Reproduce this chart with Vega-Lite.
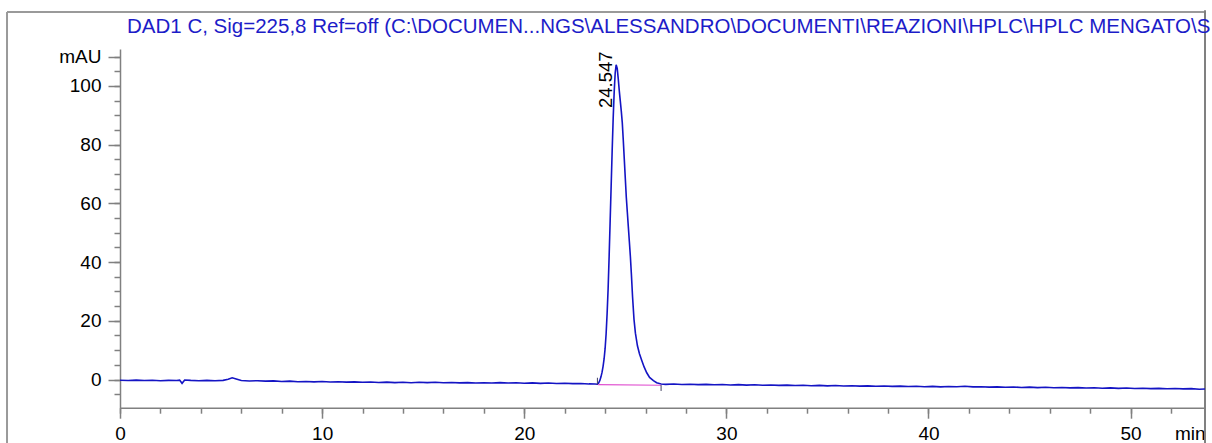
{
  "$schema": "https://vega.github.io/schema/vega-lite/v6.json",
  "width": 1085,
  "height": 358.7,
  "autosize": {"type": "none"},
  "padding": {"left": 120, "top": 49, "right": 7, "bottom": 35.3},
  "background": "white",
  "title": {
    "text": "DAD1 C, Sig=225,8 Ref=off (C:\\DOCUMEN...NGS\\ALESSANDRO\\DOCUMENTI\\REAZIONI\\HPLC\\HPLC MENGATO\\S",
    "anchor": "start",
    "frame": "group",
    "dx": 7,
    "offset": -44.5,
    "baseline": "alphabetic",
    "font": "Liberation Sans",
    "fontSize": 20.5,
    "fontWeight": "normal",
    "color": "#1c1cc8"
  },
  "config": {
    "view": {"stroke": null},
    "axis": {
      "grid": false,
      "domainColor": "#808080",
      "domainWidth": 1.5,
      "tickColor": "#808080",
      "tickWidth": 1.5,
      "labelFont": "Liberation Sans",
      "labelFontSize": 19,
      "labelColor": "#000000",
      "labelOverlap": false,
      "labelFlush": false,
      "titleFont": "Liberation Sans",
      "titleFontWeight": "normal",
      "titleFontSize": 19,
      "titleColor": "#000000"
    }
  },
  "resolve": {"axis": {"x": "independent", "y": "independent"}},
  "datasets": {
    "trace": [
      {"t": 0.0, "v": -0.25}, {"t": 0.4, "v": -0.35}, {"t": 0.8, "v": -0.2}, {"t": 1.2, "v": -0.35},
      {"t": 1.6, "v": -0.25}, {"t": 2.0, "v": -0.4}, {"t": 2.4, "v": -0.3}, {"t": 2.8, "v": -0.35},
      {"t": 2.95, "v": -0.2}, {"t": 3.07, "v": -1.3}, {"t": 3.2, "v": -0.15}, {"t": 3.5, "v": -0.3},
      {"t": 3.9, "v": -0.4}, {"t": 4.3, "v": -0.3}, {"t": 4.7, "v": -0.4}, {"t": 5.1, "v": -0.3},
      {"t": 5.35, "v": 0.1}, {"t": 5.55, "v": 0.6}, {"t": 5.75, "v": 0.2}, {"t": 6.0, "v": -0.35},
      {"t": 6.4, "v": -0.5}, {"t": 6.8, "v": -0.4}, {"t": 7.2, "v": -0.55}, {"t": 7.6, "v": -0.45},
      {"t": 8.0, "v": -0.65}, {"t": 8.4, "v": -0.55}, {"t": 8.8, "v": -0.75}, {"t": 9.2, "v": -0.65},
      {"t": 9.6, "v": -0.8}, {"t": 10.0, "v": -0.7}, {"t": 10.4, "v": -0.85}, {"t": 10.8, "v": -0.75},
      {"t": 11.2, "v": -0.9}, {"t": 11.6, "v": -0.8}, {"t": 12.0, "v": -0.95}, {"t": 12.4, "v": -0.85},
      {"t": 12.8, "v": -1.0}, {"t": 13.2, "v": -0.9}, {"t": 13.6, "v": -1.05}, {"t": 14.0, "v": -0.95},
      {"t": 14.4, "v": -1.1}, {"t": 14.8, "v": -0.95}, {"t": 15.2, "v": -1.05}, {"t": 15.6, "v": -0.95},
      {"t": 16.0, "v": -1.1}, {"t": 16.4, "v": -1.0}, {"t": 16.8, "v": -1.15}, {"t": 17.2, "v": -1.05},
      {"t": 17.6, "v": -1.2}, {"t": 18.0, "v": -1.1}, {"t": 18.4, "v": -1.2}, {"t": 18.8, "v": -1.05},
      {"t": 19.2, "v": -1.2}, {"t": 19.6, "v": -1.1}, {"t": 20.0, "v": -1.25}, {"t": 20.4, "v": -1.15},
      {"t": 20.8, "v": -1.3}, {"t": 21.2, "v": -1.2}, {"t": 21.6, "v": -1.35}, {"t": 22.0, "v": -1.25},
      {"t": 22.4, "v": -1.4}, {"t": 22.8, "v": -1.35}, {"t": 23.2, "v": -1.5}, {"t": 23.5, "v": -1.55},
      {"t": 23.62, "v": -1.6}, {"t": 23.68, "v": -1.2}, {"t": 23.74, "v": -0.3}, {"t": 23.8, "v": 1.0},
      {"t": 23.85, "v": 2.5}, {"t": 23.9, "v": 4.5}, {"t": 23.95, "v": 7.0}, {"t": 24.0, "v": 10.5},
      {"t": 24.05, "v": 15.5}, {"t": 24.1, "v": 22.5}, {"t": 24.15, "v": 31}, {"t": 24.2, "v": 42},
      {"t": 24.25, "v": 54}, {"t": 24.3, "v": 66}, {"t": 24.35, "v": 78}, {"t": 24.4, "v": 89},
      {"t": 24.45, "v": 98}, {"t": 24.5, "v": 104.5}, {"t": 24.547, "v": 107.2}, {"t": 24.6, "v": 106},
      {"t": 24.65, "v": 102.5}, {"t": 24.7, "v": 98.5}, {"t": 24.75, "v": 95}, {"t": 24.8, "v": 91.5},
      {"t": 24.85, "v": 87.5}, {"t": 24.9, "v": 81.5}, {"t": 24.95, "v": 75}, {"t": 25.0, "v": 68.5},
      {"t": 25.05, "v": 62}, {"t": 25.1, "v": 57}, {"t": 25.15, "v": 52}, {"t": 25.2, "v": 47},
      {"t": 25.25, "v": 42}, {"t": 25.3, "v": 36}, {"t": 25.36, "v": 28}, {"t": 25.43, "v": 20.5},
      {"t": 25.5, "v": 15.8}, {"t": 25.6, "v": 11.5}, {"t": 25.7, "v": 8.8}, {"t": 25.81, "v": 6.6},
      {"t": 25.93, "v": 4.3}, {"t": 26.06, "v": 2.3}, {"t": 26.2, "v": 0.7}, {"t": 26.39, "v": -0.4},
      {"t": 26.55, "v": -1.1}, {"t": 26.77, "v": -1.55}, {"t": 27.0, "v": -1.65}, {"t": 27.4, "v": -1.55},
      {"t": 27.8, "v": -1.7}, {"t": 28.2, "v": -1.6}, {"t": 28.6, "v": -1.75}, {"t": 29.0, "v": -1.65},
      {"t": 29.4, "v": -1.8}, {"t": 29.8, "v": -1.7}, {"t": 30.2, "v": -1.85}, {"t": 30.6, "v": -1.75},
      {"t": 31.0, "v": -1.9}, {"t": 31.4, "v": -1.8}, {"t": 31.8, "v": -1.95}, {"t": 32.2, "v": -1.85},
      {"t": 32.6, "v": -2.0}, {"t": 33.0, "v": -1.9}, {"t": 33.4, "v": -2.05}, {"t": 33.8, "v": -1.95},
      {"t": 34.2, "v": -2.1}, {"t": 34.6, "v": -2.0}, {"t": 35.0, "v": -2.15}, {"t": 35.4, "v": -2.05},
      {"t": 35.8, "v": -2.2}, {"t": 36.2, "v": -2.1}, {"t": 36.6, "v": -2.25}, {"t": 37.0, "v": -2.15},
      {"t": 37.4, "v": -2.3}, {"t": 37.8, "v": -2.2}, {"t": 38.2, "v": -2.35}, {"t": 38.6, "v": -2.25},
      {"t": 39.0, "v": -2.4}, {"t": 39.4, "v": -2.3}, {"t": 39.8, "v": -2.45}, {"t": 40.2, "v": -2.35},
      {"t": 40.6, "v": -2.5}, {"t": 41.0, "v": -2.4}, {"t": 41.4, "v": -2.45}, {"t": 41.8, "v": -2.3},
      {"t": 42.2, "v": -2.5}, {"t": 42.6, "v": -2.45}, {"t": 43.0, "v": -2.6}, {"t": 43.4, "v": -2.5},
      {"t": 43.8, "v": -2.65}, {"t": 44.2, "v": -2.55}, {"t": 44.6, "v": -2.7}, {"t": 45.0, "v": -2.6},
      {"t": 45.4, "v": -2.75}, {"t": 45.8, "v": -2.65}, {"t": 46.2, "v": -2.8}, {"t": 46.6, "v": -2.7},
      {"t": 47.0, "v": -2.85}, {"t": 47.4, "v": -2.75}, {"t": 47.8, "v": -2.9}, {"t": 48.2, "v": -2.8},
      {"t": 48.6, "v": -2.95}, {"t": 49.0, "v": -2.85}, {"t": 49.4, "v": -3.0}, {"t": 49.8, "v": -2.9},
      {"t": 50.2, "v": -3.05}, {"t": 50.6, "v": -2.95}, {"t": 51.0, "v": -3.1}, {"t": 51.4, "v": -3.0},
      {"t": 51.8, "v": -3.15}, {"t": 52.2, "v": -3.05}, {"t": 52.6, "v": -3.2}, {"t": 53.0, "v": -3.1},
      {"t": 53.4, "v": -3.3}, {"t": 53.68, "v": -3.25}
    ],
    "peak": [{"rt": 24.547, "height": 107.2, "label": "24.547", "start": 23.62, "end": 26.77}]
  },
  "layer": [
    {
      "data": {"name": "peak"},
      "mark": {"type": "rule", "color": "#9a9a9a", "strokeWidth": 2, "clip": false},
      "encoding": {
        "x": {"datum": -5.59, "type": "quantitative", "axis": null},
        "y": {"datum": -21.6, "type": "quantitative", "axis": null},
        "y2": {"datum": 125.2}
      }
    },
    {
      "data": {"name": "peak"},
      "mark": {"type": "rule", "color": "#9a9a9a", "strokeWidth": 2, "clip": false},
      "encoding": {
        "x": {"datum": -5.59, "type": "quantitative", "axis": null},
        "x2": {"datum": 53.68},
        "y": {"datum": 125.2, "type": "quantitative", "axis": null}
      }
    },
    {
      "data": {"name": "peak"},
      "mark": {"type": "rule", "color": "#808080", "strokeWidth": 2, "clip": false},
      "encoding": {
        "x": {"datum": 53.68, "type": "quantitative", "axis": null},
        "y": {"datum": -21.6, "type": "quantitative", "axis": null},
        "y2": {"datum": 125.8}
      }
    },
    {
      "data": {"name": "trace"},
      "mark": {"type": "line", "color": "#1414c4", "strokeWidth": 1.6, "interpolate": "linear"},
      "encoding": {
        "x": {
          "field": "t",
          "type": "quantitative",
          "scale": {"domain": [0, 53.68], "nice": false, "zero": false},
          "axis": {
            "orient": "bottom",
            "values": [0, 2, 4, 6, 8, 10, 12, 14, 16, 18, 20, 22, 24, 26, 28, 30, 32, 34, 36, 38, 40, 42, 44, 46, 48, 50, 52],
            "labels": false,
            "tickSize": 5.5,
            "title": null
          }
        },
        "y": {
          "field": "v",
          "type": "quantitative",
          "scale": {"domain": [-9.6, 112.6], "nice": false, "zero": false},
          "axis": {
            "orient": "left",
            "values": [-5, 0, 5, 10, 15, 20, 25, 30, 35, 40, 45, 50, 55, 60, 65, 70, 75, 80, 85, 90, 95, 100, 105, 110],
            "labels": false,
            "tickSize": 6,
            "title": null
          }
        }
      }
    },
    {
      "data": {"name": "peak"},
      "mark": {"type": "rule", "color": "#e050d0", "strokeWidth": 1.2},
      "encoding": {
        "x": {
          "datum": 23.66,
          "type": "quantitative",
          "axis": {
            "orient": "bottom",
            "values": [0, 10, 20, 30, 40, 50],
            "tickSize": 10.5,
            "labelPadding": 6,
            "domain": false,
            "title": "min",
            "titleAnchor": "end",
            "titleAlign": "right",
            "titleBaseline": "alphabetic",
            "titleX": 1085,
            "titleY": 31.8
          }
        },
        "x2": {"datum": 26.77},
        "y": {
          "datum": -1.75,
          "type": "quantitative",
          "axis": {
            "orient": "left",
            "values": [0, 20, 40, 60, 80, 100, 110],
            "labelExpr": "datum.value == 110 ? 'mAU' : datum.label",
            "tickSize": 12,
            "labelPadding": 7,
            "domain": false,
            "title": null
          }
        },
        "y2": {"datum": -1.95}
      }
    },
    {
      "data": {"name": "peak"},
      "mark": {"type": "rule", "color": "#404060", "strokeWidth": 1},
      "encoding": {
        "x": {"field": "start", "type": "quantitative", "axis": null},
        "y": {"datum": -1.7, "type": "quantitative", "axis": null},
        "y2": {"datum": 0.6}
      }
    },
    {
      "data": {"name": "peak"},
      "mark": {"type": "rule", "color": "#404060", "strokeWidth": 1},
      "encoding": {
        "x": {"field": "end", "type": "quantitative", "axis": null},
        "y": {"datum": -1.9, "type": "quantitative", "axis": null},
        "y2": {"datum": -3.9}
      }
    },
    {
      "data": {"name": "peak"},
      "mark": {"type": "text", "angle": 270, "align": "left", "baseline": "alphabetic", "dy": -4, "font": "Liberation Sans", "fontSize": 18.5, "color": "#000000"},
      "encoding": {
        "x": {"field": "rt", "type": "quantitative", "axis": null},
        "y": {"datum": 92.5, "type": "quantitative", "axis": null},
        "text": {"field": "label"}
      }
    }
  ]
}
